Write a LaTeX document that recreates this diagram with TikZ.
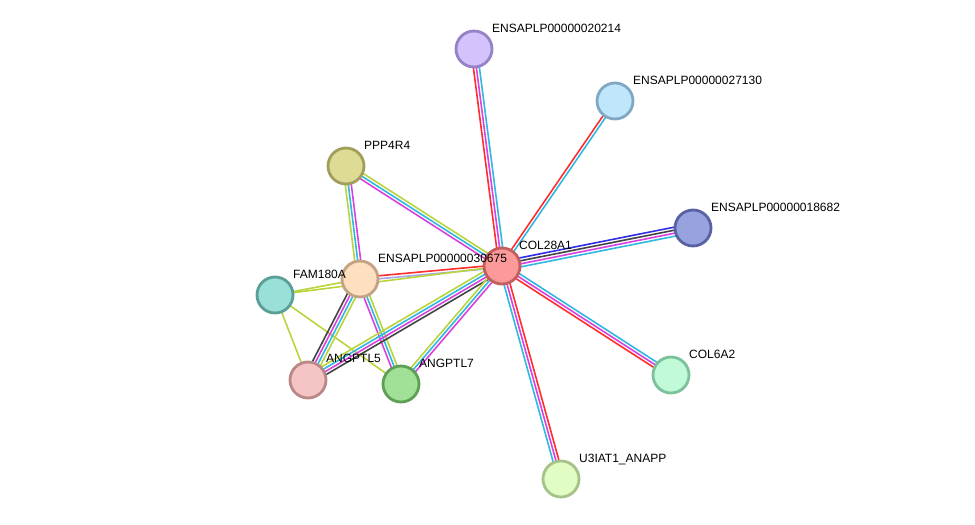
\documentclass[tikz,border=0pt]{standalone}
\usepackage{fontspec}
\setmainfont{Liberation Sans}
\usetikzlibrary{calc}
\pgfdeclarelayer{edges}
\pgfsetlayers{edges,main}

% evidence colours
\definecolor{evred}{HTML}{FF2D2D}
\definecolor{evmag}{HTML}{D940E0}
\definecolor{evcyan}{HTML}{30B8E0}
\definecolor{evyg}{HTML}{B8D53C}
\definecolor{evblk}{HTML}{444444}
\definecolor{evblue}{HTML}{2F2FE6}
\definecolor{evlav}{HTML}{A8A6E6}

\tikzset{
  protein/.style={circle,minimum size=36pt,inner sep=0pt,line width=2.8pt},
  plabel/.style={anchor=base west,inner sep=0pt,font=\fontsize{12}{14}\selectfont},
  evid/.style={line width=1.6pt}
}

% parallel evidence lines between two proteins: colour/offset pairs
\newcommand{\strlink}[3]{%
  \foreach \lc/\off in {#3}{%
    \draw[evid,color=\lc]
      ($(#1.center)!\off!90:(#2.center)$)
      --
      ($(#2.center)!\off!-90:(#1.center)$);
  }}

\begin{document}
\begin{tikzpicture}[x=1pt,y=-1pt]
  \useasboundingbox (0,0) rectangle (975,525);

  \node[protein,fill={rgb,255:red,252;green,154;blue,154},draw={rgb,255:red,194;green,94;blue,94}] (col28) at (502,266) {};
  \node[protein,fill={rgb,255:red,211;green,194;blue,251},draw={rgb,255:red,150;green,128;blue,198}] (p20214) at (474,49) {};
  \node[protein,fill={rgb,255:red,192;green,230;blue,252},draw={rgb,255:red,128;green,168;blue,194}] (p27130) at (615,101) {};
  \node[protein,fill={rgb,255:red,152;green,162;blue,223},draw={rgb,255:red,89;green,98;blue,163}] (p18682) at (693,228) {};
  \node[protein,fill={rgb,255:red,192;green,250;blue,216},draw={rgb,255:red,123;green,193;blue,156}] (col6) at (671,375) {};
  \node[protein,fill={rgb,255:red,226;green,253;blue,196},draw={rgb,255:red,165;green,194;blue,136}] (u3iat) at (561,479) {};
  \node[protein,fill={rgb,255:red,222;green,219;blue,149},draw={rgb,255:red,162;green,159;blue,92}] (ppp4) at (346,166) {};
  \node[protein,fill={rgb,255:red,254;green,224;blue,192},draw={rgb,255:red,195;green,162;blue,131}] (p30675) at (360,279) {};
  \node[protein,fill={rgb,255:red,153;green,224;blue,216},draw={rgb,255:red,91;green,159;blue,151}] (fam) at (275,295) {};
  \node[protein,fill={rgb,255:red,245;green,197;blue,197},draw={rgb,255:red,185;green,136;blue,136}] (angl5) at (308,380) {};
  \node[protein,fill={rgb,255:red,160;green,224;blue,151},draw={rgb,255:red,94;green,158;blue,85}] (angl7) at (401,384) {};

  \node[plabel] (col28lbl) at (519,249) {COL28A1};
  \node[plabel] (p20214lbl) at (492,32) {ENSAPLP00000020214};
  \node[plabel] (p27130lbl) at (633,84) {ENSAPLP00000027130};
  \node[plabel] (p18682lbl) at (711,211) {ENSAPLP00000018682};
  \node[plabel] (col6lbl) at (689,358) {COL6A2};
  \node[plabel] (u3iatlbl) at (579,462) {U3IAT1\_ANAPP};
  \node[plabel] (ppp4lbl) at (364,149) {PPP4R4};
  \node[plabel] (p30675lbl) at (378,262) {ENSAPLP00000030675};
  \node[plabel] (famlbl) at (293,278) {FAM180A};
  \node[plabel] (angl5lbl) at (326,362) {ANGPTL5};
  \node[plabel] (angl7lbl) at (419,367) {ANGPTL7};

  \begin{pgfonlayer}{edges}
    \strlink{col28}{p20214}{evred/3pt,evmag/0pt,evcyan/-3pt}
    \strlink{col28}{p27130}{evred/1.5pt,evcyan/-1.5pt}
    \strlink{col28}{p18682}{evblue/4.5pt,evblk/1.5pt,evmag/-1.5pt,evcyan/-4.5pt}
    \strlink{col28}{col6}{evcyan/3pt,evmag/0pt,evred/-3pt}
    \strlink{col28}{u3iat}{evred/3pt,evmag/0pt,evcyan/-3pt}
    \strlink{col28}{p30675}{evred/-1.5pt,evlav/1.5pt}
    \strlink{fam}{col28}{evyg/0pt}
    \strlink{fam}{p30675}{evyg/0pt}
    \strlink{fam}{angl5}{evyg/0pt}
    \strlink{fam}{angl7}{evyg/0pt}
    \strlink{ppp4}{col28}{evyg/3pt,evcyan/0pt,evmag/-3pt}
    \strlink{ppp4}{p30675}{evmag/3pt,evcyan/0pt,evyg/-3pt}
    \strlink{p30675}{angl5}{evblk/-4.5pt,evmag/-1.5pt,evcyan/1.5pt,evyg/4.5pt}
    \strlink{p30675}{angl7}{evmag/-3pt,evcyan/0pt,evyg/3pt}
    \strlink{col28}{angl5}{evyg/-4.5pt,evcyan/-1.5pt,evmag/1.5pt,evblk/4.5pt}
    \strlink{col28}{angl7}{evyg/-3pt,evcyan/0pt,evmag/3pt}
  \end{pgfonlayer}
\end{tikzpicture}
\end{document}
